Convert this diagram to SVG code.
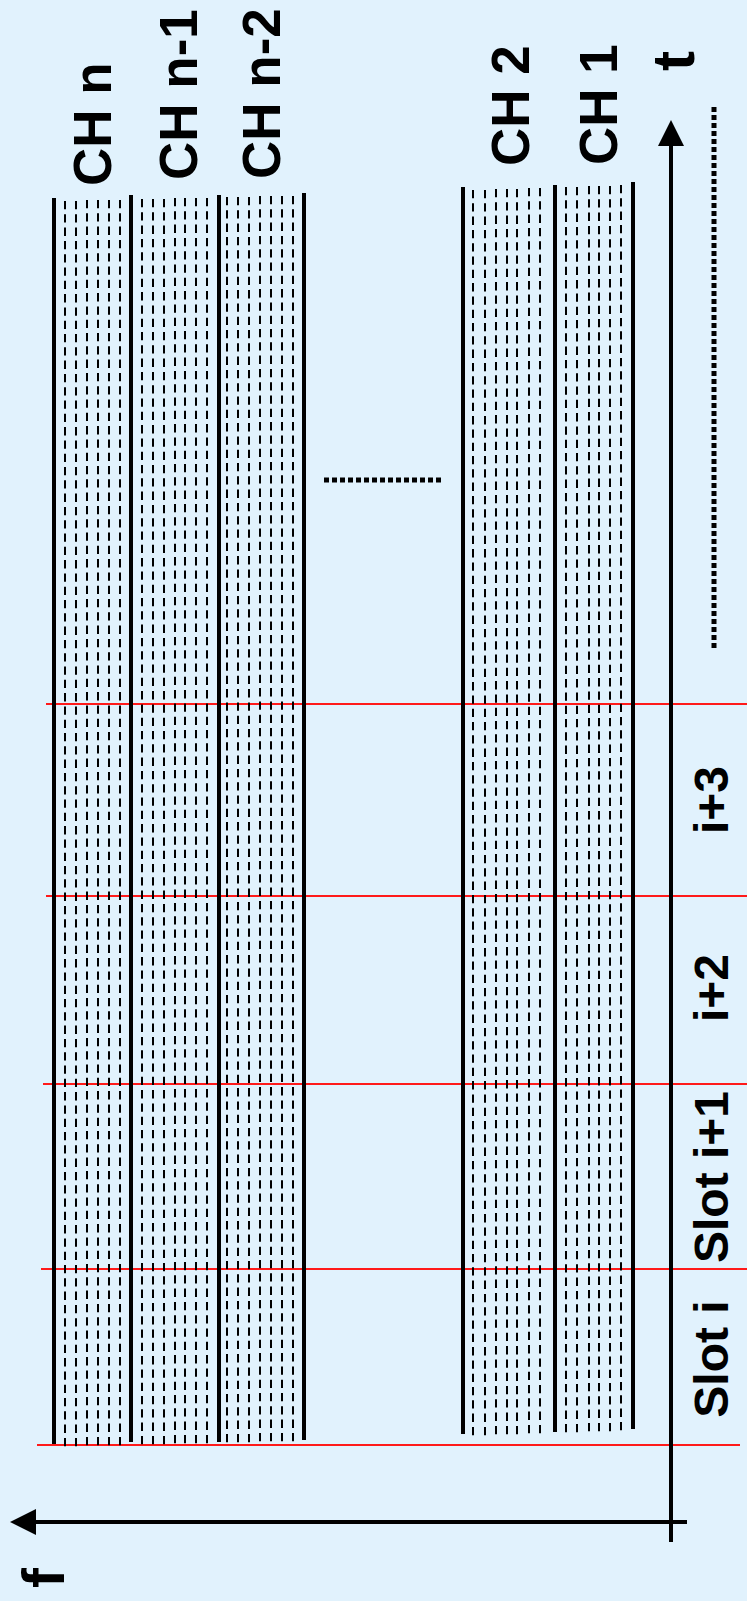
<svg xmlns="http://www.w3.org/2000/svg" width="747" height="1601" viewBox="0 0 747 1601">
<style>
.s{stroke:#000;stroke-width:4;fill:none}
.d{stroke:#000;stroke-width:2;stroke-dasharray:8.3 5;fill:none}
.r{stroke:#ff1a1a;stroke-width:2;fill:none}
.ax{stroke:#000;stroke-width:4;fill:none}
.dot{stroke:#000;stroke-width:5;stroke-dasharray:5 3;fill:none}
.lab{font-family:"Liberation Sans",Arial,sans-serif;font-weight:bold;fill:#000}
.ch{font-size:53px}
.sl{font-size:48px;text-anchor:middle}
.axl{font-size:60px;text-anchor:middle}
</style>
<rect x="0" y="0" width="747" height="1601" fill="#e1f2fd"/>
<g id="slot-boundaries">
<line class="r" x1="46" y1="704" x2="747" y2="704"/>
<line class="r" x1="46" y1="896" x2="747" y2="896"/>
<line class="r" x1="43" y1="1084" x2="747" y2="1084"/>
<line class="r" x1="41" y1="1269" x2="747" y2="1269"/>
<line class="r" x1="37" y1="1445" x2="740" y2="1445"/>
</g>
<g id="channels-high">
<line class="s" x1="54" y1="198" x2="54" y2="1444"/>
<line class="s" x1="131" y1="195" x2="131" y2="1442"/>
<line class="s" x1="219" y1="195" x2="219" y2="1442"/>
<line class="s" x1="304" y1="193" x2="304" y2="1440"/>
<g id="ch-n">
<line class="d" x1="65" y1="201" x2="65" y2="1447"/>
<line class="d" x1="76" y1="201" x2="76" y2="1447"/>
<line class="d" x1="87" y1="200" x2="87" y2="1447"/>
<line class="d" x1="98" y1="200" x2="98" y2="1447"/>
<line class="d" x1="109" y1="200" x2="109" y2="1447"/>
<line class="d" x1="120" y1="200" x2="120" y2="1447"/>
</g>
<g id="ch-n-1">
<line class="d" x1="142" y1="199" x2="142" y2="1446"/>
<line class="d" x1="153" y1="199" x2="153" y2="1446"/>
<line class="d" x1="164" y1="199" x2="164" y2="1447"/>
<line class="d" x1="175" y1="198" x2="175" y2="1446"/>
<line class="d" x1="185" y1="198" x2="185" y2="1446"/>
<line class="d" x1="196" y1="198" x2="196" y2="1446"/>
<line class="d" x1="207" y1="198" x2="207" y2="1446"/>
</g>
<g id="ch-n-2">
<line class="d" x1="227" y1="197" x2="227" y2="1445"/>
<line class="d" x1="238" y1="197" x2="238" y2="1445"/>
<line class="d" x1="249" y1="197" x2="249" y2="1445"/>
<line class="d" x1="260" y1="196" x2="260" y2="1444"/>
<line class="d" x1="271" y1="196" x2="271" y2="1444"/>
<line class="d" x1="282" y1="196" x2="282" y2="1444"/>
<line class="d" x1="293" y1="196" x2="293" y2="1444"/>
</g>
</g>
<g id="channels-low">
<line class="s" x1="463" y1="187" x2="463" y2="1434"/>
<line class="s" x1="555" y1="185" x2="555" y2="1432"/>
<line class="s" x1="633" y1="182" x2="633" y2="1429"/>
<g id="ch-2">
<line class="d" x1="473" y1="190" x2="473" y2="1436"/>
<line class="d" x1="485" y1="190" x2="485" y2="1436"/>
<line class="d" x1="496" y1="189" x2="496" y2="1435"/>
<line class="d" x1="507" y1="189" x2="507" y2="1435"/>
<line class="d" x1="517" y1="189" x2="517" y2="1435"/>
<line class="d" x1="529" y1="188" x2="529" y2="1434"/>
<line class="d" x1="540" y1="188" x2="540" y2="1434"/>
</g>
<g id="ch-1">
<line class="d" x1="566" y1="187" x2="566" y2="1433"/>
<line class="d" x1="577" y1="187" x2="577" y2="1433"/>
<line class="d" x1="589" y1="186" x2="589" y2="1432"/>
<line class="d" x1="599" y1="186" x2="599" y2="1432"/>
<line class="d" x1="610" y1="186" x2="610" y2="1432"/>
<line class="d" x1="621" y1="185" x2="621" y2="1431"/>
</g>
</g>
<g id="ellipsis">
<line class="dot" x1="324" y1="480" x2="442" y2="480"/>
<line class="dot" x1="714" y1="107" x2="714" y2="648"/>
</g>
<g id="axes">
<line class="ax" x1="671" y1="1542" x2="671" y2="140"/>
<polygon points="671,120 684,146 658,146" fill="#000"/>
<line class="ax" x1="687" y1="1522" x2="32" y2="1522"/>
<polygon points="10,1522 36,1509 36,1535" fill="#000"/>
</g>
<g id="labels" class="lab">
<text class="ch" transform="translate(111,186) rotate(-90)">CH n</text>
<text class="ch" transform="translate(197,180) rotate(-90)">CH n-1</text>
<text class="ch" transform="translate(280,179) rotate(-90)">CH n-2</text>
<text class="ch" transform="translate(529,166) rotate(-90)">CH 2</text>
<text class="ch" transform="translate(617,165) rotate(-90)">CH 1</text>
<text class="axl" transform="translate(694,61) rotate(-90)">t</text>
<text class="axl" transform="translate(64,1578) rotate(-90)">f</text>
<text class="sl" transform="translate(728,1359) rotate(-90)">Slot i</text>
<text class="sl" transform="translate(728,1177) rotate(-90)">Slot i+1</text>
<text class="sl" transform="translate(728,988) rotate(-90)">i+2</text>
<text class="sl" transform="translate(728,800) rotate(-90)">i+3</text>
</g>
</svg>
